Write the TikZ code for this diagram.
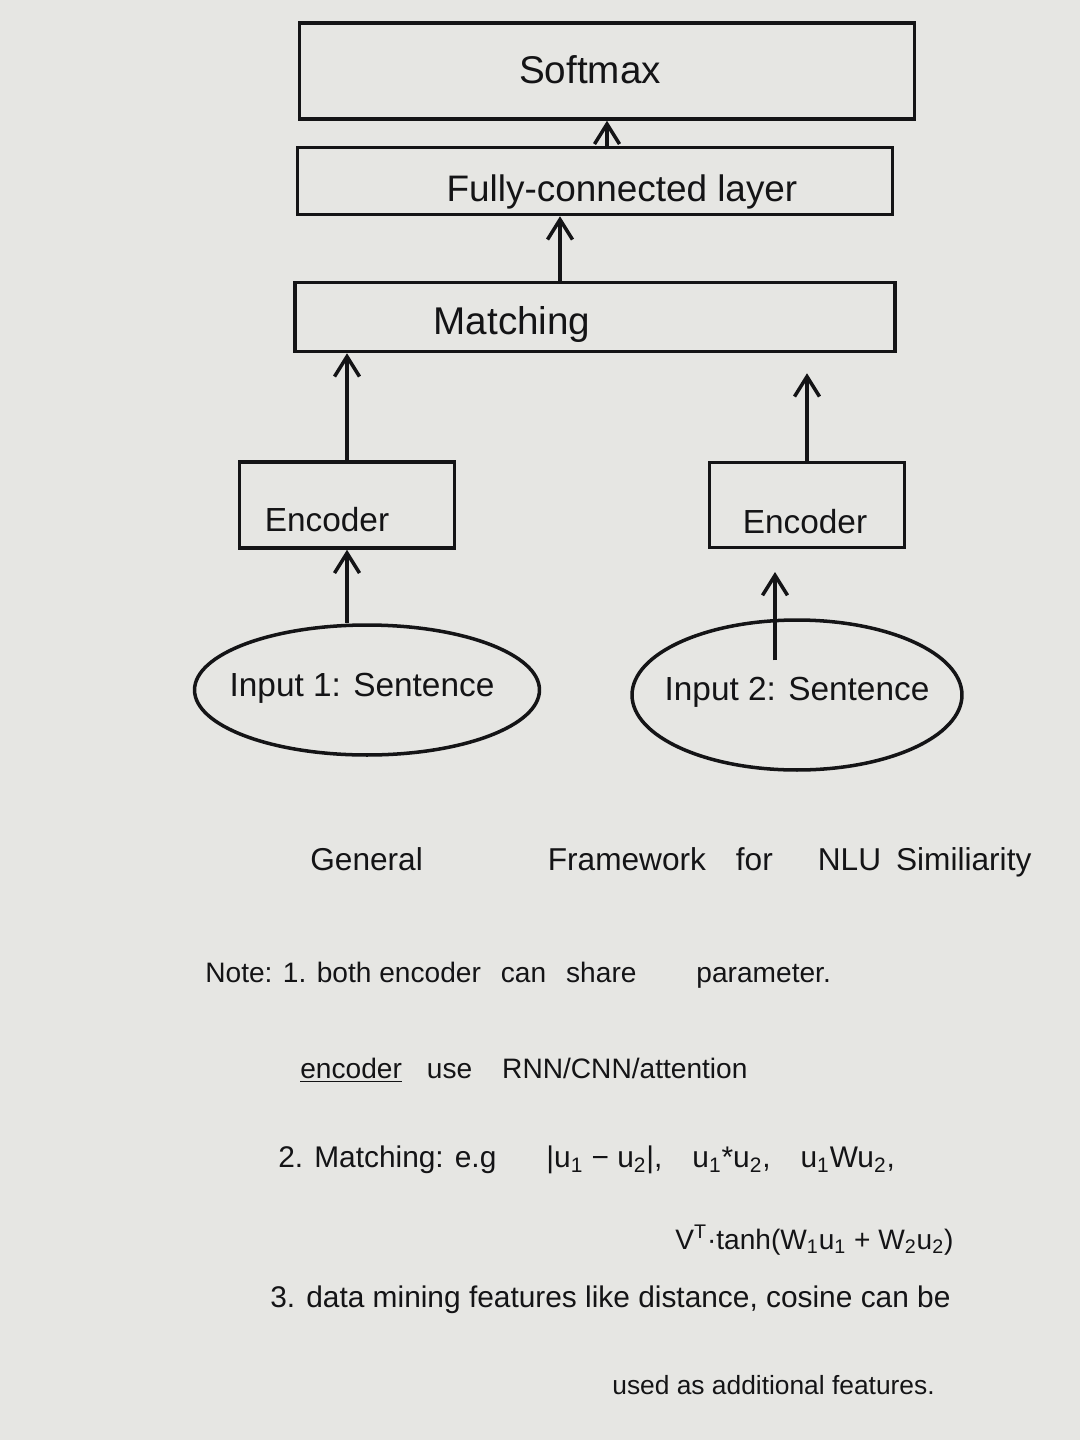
\documentclass[tikz,border=0pt]{standalone}
\usepackage{fontspec}
\setmainfont{Liberation Sans}
\usetikzlibrary{arrows.meta,shapes.geometric,calc}
\definecolor{paper}{RGB}{230,230,227}
\definecolor{ink}{RGB}{20,20,22}
\tikzset{
  box/.style={draw=ink, line width=2pt, rectangle, inner sep=0pt},
  ell/.style={draw=ink, line width=2pt, ellipse, inner sep=0pt},
  arr/.style={draw=ink, line width=2pt, -{Straight Barb[length=4mm,width=5mm,line width=2pt]}},
  txt/.style={text=ink, inner sep=0pt},
  lbl/.style={text=ink, inner sep=0pt, anchor=west},
}
\begin{document}
\begin{tikzpicture}[x=0.02cm,y=-0.02cm]
\fill[paper] (0,0) rectangle (1080,1440);
\useasboundingbox (0,0) rectangle (1080,1440);
% boxes
\node[box, minimum width=12.3cm, minimum height=1.92cm] (Soft) at (607,71) {};
\node[box, minimum width=11.9cm, minimum height=1.34cm] (FC) at (595,181) {};
\node[box, minimum width=12.0cm, minimum height=1.38cm] (Match) at (595,317) {};
\node[box, minimum width=4.3cm, minimum height=1.72cm] (Enc1) at (347,505) {};
\node[box, minimum width=3.9cm, minimum height=1.7cm] (Enc2) at (807,505) {};
\node[ell, minimum width=6.9cm, minimum height=2.6cm] (In1) at (367,690) {};
\node[ell, minimum width=6.6cm, minimum height=3.0cm] (In2) at (797,695) {};
% box labels
\node[txt, font=\fontsize{22}{26}\selectfont] (SoftT) at (590,70) {Softmax};
\node[txt, font=\fontsize{21}{25}\selectfont] (FCT) at (622,192) {Fully-connected layer};
\node[txt, font=\fontsize{22}{26}\selectfont] (MatchT) at (512,325) {Matching};
\node[txt, font=\fontsize{19}{23}\selectfont] (Enc1T) at (327,520) {Encoder};
\node[txt, font=\fontsize{19}{23}\selectfont] (Enc2T) at (805,522) {Encoder};
\node[txt, font=\fontsize{19}{23}\selectfont] (In1T) at (362,688) {Input 1: Sentence};
\node[txt, font=\fontsize{19}{23}\selectfont] (In2T) at (797,692) {Input 2: Sentence};
% connectors
\coordinate (c2) at (775,572);
\draw[arr] (FC.north -| Soft.south) -- (Soft.south);
\draw[arr] ([xshift=-0.7cm]Match.north) -- ([xshift=-0.7cm]FC.south);
\draw[arr] (Enc1.north) -- (Enc1.north |- Match.south);
\draw[arr, shorten >=0.4cm] (Enc2.north) -- (Enc2.north |- Match.south);
\draw[arr] (Enc1.south |- In1.north) -- (Enc1.south);
\draw[arr] ($(In2.north -| c2)+(0,42)$) -- (c2);
% title
\node[lbl, font=\fontsize{18}{22}\selectfont] (Title) at (310,862) {General\hspace{2.5cm}Framework\hspace{0.6cm}for\hspace{0.9cm}NLU\hspace{0.3cm}Similiarity};
% notes
\node[lbl, font=\fontsize{16}{20}\selectfont] (N1) at (205,975) {Note: 1. both encoder\hspace{0.4cm}can\hspace{0.4cm}share\hspace{1.2cm}parameter.};
\node[lbl, font=\fontsize{16}{20}\selectfont] (N1b) at (300,1070) {\underline{encoder}\hspace{0.5cm}use\hspace{0.6cm}RNN/CNN/attention};
\node[lbl, font=\fontsize{17}{21}\selectfont] (N2) at (278,1160) {2. Matching: e.g\hspace{1cm}|u\textsubscript{1} − u\textsubscript{2}|,\hspace{0.6cm}u\textsubscript{1}*u\textsubscript{2},\hspace{0.6cm}u\textsubscript{1}Wu\textsubscript{2},};
\node[lbl, font=\fontsize{16}{20}\selectfont] (N2b) at (675,1240) {V\textsuperscript{T}·tanh(W\textsubscript{1}u\textsubscript{1} + W\textsubscript{2}u\textsubscript{2})};
\node[lbl, font=\fontsize{17}{21}\selectfont] (N3) at (270,1300) {3. data mining features like distance, cosine can be};
\node[lbl, font=\fontsize{15}{19}\selectfont] (N3b) at (612,1385) {used as additional features.};
\end{tikzpicture}
\end{document}
